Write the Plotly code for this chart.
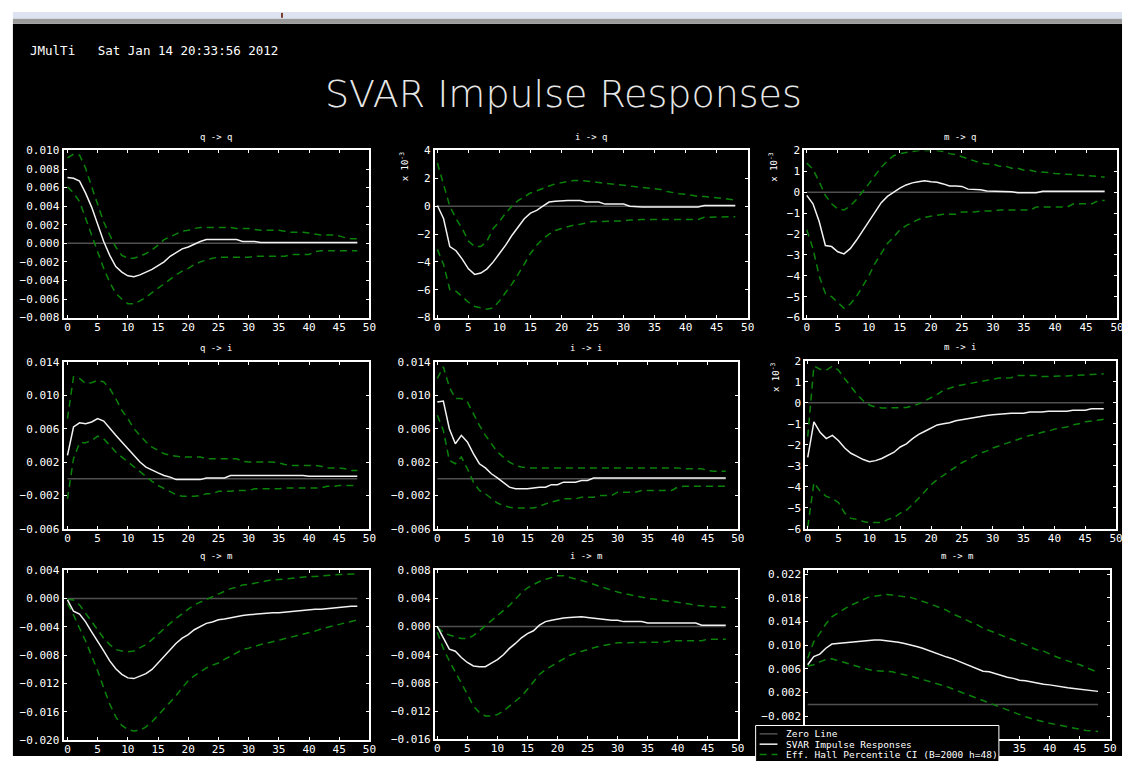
import plotly.graph_objects as go

W, H = 1133, 761

# ---------------- data ----------------
horizon = list(range(49))
zero = [0.0] * len(horizon)

titles = ["q -> q", "i -> q", "m -> q",
          "q -> i", "i -> i", "m -> i",
          "q -> m", "i -> m", "m -> m"]

# q -> q
irf_qq = [0.0071,0.0070,0.0067,0.0054,0.0039,0.0020,0.0002,-0.0013,-0.0025,-0.0031,
          -0.0035,-0.0036,-0.0034,-0.0031,-0.0028,-0.0024,-0.0020,-0.0014,-0.0010,-0.0006,
          -0.0004,-0.0001,0.0002,0.0004,0.0004,0.0004,0.0004,0.0004,0.0004,0.0002,
          0.0002,0.0002,0.0001,0.0001,0.0001,0.0001,0.0001,0.0001,0.0001,0.0001,
          0.0001,0.0001,0.0001,0.0001,0.0001,0.0001,0.0001,0.0001,0.0001]
hi_qq = [0.0092,0.0096,0.0095,0.0081,0.0061,0.0042,0.0023,0.0009,-0.0004,-0.0013,
         -0.0016,-0.0016,-0.0014,-0.0011,-0.0007,-0.0002,0.0004,0.0007,0.0010,0.0013,
         0.0014,0.0016,0.0017,0.0017,0.0017,0.0017,0.0017,0.0017,0.0016,0.0016,
         0.0016,0.0015,0.0014,0.0014,0.0014,0.0014,0.0013,0.0012,0.0012,0.0012,
         0.0011,0.0010,0.0009,0.0009,0.0009,0.0008,0.0006,0.0005,0.0005]
lo_qq = [0.0061,0.0054,0.0045,0.0027,0.0009,-0.0009,-0.0027,-0.0042,-0.0054,-0.0060,
         -0.0065,-0.0065,-0.0062,-0.0058,-0.0053,-0.0049,-0.0043,-0.0038,-0.0034,-0.0030,
         -0.0027,-0.0023,-0.0020,-0.0018,-0.0016,-0.0015,-0.0015,-0.0015,-0.0015,-0.0015,
         -0.0015,-0.0014,-0.0014,-0.0014,-0.0014,-0.0014,-0.0014,-0.0012,-0.0012,-0.0012,
         -0.0012,-0.0009,-0.0008,-0.0008,-0.0008,-0.0008,-0.0008,-0.0008,-0.0008]

# i -> q  (x 10^-3)
irf_iq = [0.05,-0.9,-2.9,-3.2,-3.8,-4.5,-4.9,-4.8,-4.5,-4.0,
          -3.4,-2.8,-2.1,-1.5,-0.9,-0.5,-0.3,0.0,0.3,0.35,
          0.4,0.4,0.4,0.4,0.3,0.3,0.3,0.15,0.15,0.15,
          0.15,0.0,-0.05,-0.05,-0.05,-0.05,-0.05,-0.05,-0.05,-0.05,
          -0.05,-0.05,-0.05,0.05,0.05,0.05,0.05,0.05,0.05]
hi_iq = [3.1,1.6,0.0,-0.9,-1.6,-2.5,-2.9,-2.9,-2.5,-1.6,
         -1.1,-0.5,0.0,0.4,0.7,0.95,1.1,1.3,1.45,1.6,
         1.7,1.8,1.85,1.85,1.8,1.75,1.75,1.65,1.6,1.6,
         1.55,1.45,1.4,1.35,1.3,1.25,1.2,1.05,0.95,0.9,
         0.85,0.75,0.7,0.7,0.65,0.55,0.5,0.45,0.45]
lo_iq = [-3.1,-4.2,-6.0,-6.1,-6.5,-6.9,-7.2,-7.3,-7.4,-7.3,
         -6.8,-6.2,-5.6,-4.9,-4.1,-3.4,-2.8,-2.35,-2.0,-1.75,
         -1.6,-1.45,-1.35,-1.3,-1.2,-1.1,-1.1,-1.1,-1.1,-1.05,
         -1.05,-1.0,-0.95,-0.95,-0.95,-0.95,-0.95,-0.95,-0.95,-0.95,
         -0.95,-0.95,-0.95,-0.8,-0.8,-0.8,-0.8,-0.8,-0.75]

# m -> q  (x 10^-3)
irf_mq = [-0.15,-0.55,-1.4,-2.55,-2.6,-2.85,-2.95,-2.7,-2.3,-1.85,
          -1.4,-0.9,-0.5,-0.2,0.0,0.2,0.35,0.45,0.5,0.55,
          0.5,0.48,0.4,0.3,0.3,0.28,0.15,0.15,0.12,0.06,
          0.06,0.06,0.05,0.03,-0.02,-0.02,-0.02,-0.02,0.05,0.05,
          0.05,0.05,0.05,0.05,0.05,0.05,0.05,0.05,0.05]
hi_mq = [1.4,1.1,0.5,-0.15,-0.55,-0.8,-0.85,-0.65,-0.35,0.0,
         0.4,0.8,1.2,1.5,1.75,1.85,1.9,1.95,2.0,2.0,
         2.0,2.0,1.95,1.85,1.8,1.7,1.6,1.5,1.4,1.35,
         1.35,1.25,1.25,1.15,1.15,1.05,1.05,0.98,0.98,0.95,
         0.9,0.88,0.87,0.87,0.85,0.8,0.78,0.75,0.72]
lo_mq = [-1.8,-2.7,-4.0,-4.85,-5.0,-5.3,-5.55,-5.35,-5.0,-4.5,
         -4.0,-3.4,-2.95,-2.45,-2.15,-1.8,-1.6,-1.45,-1.3,-1.2,
         -1.15,-1.1,-1.05,-1.05,-1.05,-0.95,-0.95,-0.95,-0.9,-0.9,
         -0.9,-0.85,-0.85,-0.85,-0.85,-0.85,-0.85,-0.7,-0.7,-0.7,
         -0.7,-0.7,-0.7,-0.55,-0.55,-0.55,-0.55,-0.4,-0.4]

# q -> i
irf_qi = [0.0028,0.0062,0.0067,0.0066,0.0068,0.0072,0.0069,0.0060,0.0052,0.0044,
          0.0036,0.0027,0.0020,0.0014,0.0010,0.0007,0.0004,0.0002,-0.0001,-0.0001,
          -0.0001,-0.0001,-0.0001,0.0001,0.0001,0.0001,0.0001,0.0004,0.0004,0.0004,
          0.0004,0.0004,0.0004,0.0004,0.0004,0.0004,0.0004,0.0004,0.0004,0.0004,
          0.0003,0.0003,0.0003,0.0003,0.0003,0.0003,0.0003,0.0003,0.0003]
hi_qi = [0.0072,0.0122,0.0120,0.0114,0.0115,0.0118,0.0116,0.0108,0.0096,0.0082,
         0.0072,0.0060,0.0052,0.0044,0.0038,0.0034,0.0030,0.0028,0.0027,0.0026,
         0.0026,0.0026,0.0026,0.0024,0.0024,0.0024,0.0024,0.0024,0.0024,0.0021,
         0.0020,0.0020,0.0020,0.0020,0.0020,0.0019,0.0017,0.0016,0.0016,0.0016,
         0.0016,0.0016,0.0015,0.0013,0.0013,0.0013,0.0012,0.0010,0.0010]
lo_qi = [-0.0024,0.0024,0.0043,0.0043,0.0046,0.0051,0.0048,0.0040,0.0032,0.0026,
         0.0020,0.0014,0.0008,0.0002,-0.0003,-0.0008,-0.0012,-0.0016,-0.0019,-0.0021,
         -0.0021,-0.0021,-0.0020,-0.0018,-0.0018,-0.0015,-0.0015,-0.0015,-0.0014,-0.0014,
         -0.0014,-0.0012,-0.0012,-0.0012,-0.0012,-0.0012,-0.0011,-0.0011,-0.0011,-0.0011,
         -0.0011,-0.0011,-0.0011,-0.0009,-0.0009,-0.0008,-0.0008,-0.0008,-0.0008]

# i -> i
irf_ii = [0.0092,0.0093,0.0060,0.0042,0.0052,0.0044,0.0030,0.0018,0.0013,0.0006,
          0.0001,-0.0005,-0.0010,-0.0012,-0.0012,-0.0012,-0.0011,-0.0010,-0.0010,-0.0007,
          -0.0007,-0.0004,-0.0004,-0.0004,-0.0002,-0.0002,0.0001,0.0001,0.0001,0.0001,
          0.0001,0.0001,0.0001,0.0001,0.0001,0.0001,0.0001,0.0001,0.0001,0.0001,
          0.0001,0.0001,0.0001,0.0001,0.0001,0.0001,0.0001,0.0001,0.0001]
hi_ii = [0.0120,0.0134,0.0110,0.0096,0.0096,0.0092,0.0078,0.0064,0.0052,0.0042,
         0.0032,0.0026,0.0020,0.0016,0.0014,0.0013,0.0013,0.0013,0.0013,0.0013,
         0.0013,0.0013,0.0013,0.0013,0.0013,0.0013,0.0013,0.0013,0.0013,0.0013,
         0.0013,0.0013,0.0013,0.0013,0.0013,0.0013,0.0013,0.0013,0.0013,0.0013,
         0.0013,0.0012,0.0012,0.0012,0.0012,0.0010,0.0009,0.0009,0.0009]
lo_ii = [0.0076,0.0058,0.0022,0.0018,0.0026,0.0012,-0.0004,-0.0014,-0.0018,-0.0024,
         -0.0029,-0.0032,-0.0034,-0.0035,-0.0035,-0.0035,-0.0035,-0.0033,-0.0030,-0.0028,
         -0.0026,-0.0024,-0.0024,-0.0024,-0.0022,-0.0022,-0.0022,-0.0020,-0.0020,-0.0020,
         -0.0016,-0.0016,-0.0016,-0.0016,-0.0014,-0.0014,-0.0014,-0.0014,-0.0014,-0.0014,
         -0.0010,-0.0009,-0.0009,-0.0009,-0.0009,-0.0009,-0.0009,-0.0009,-0.0009]

# m -> i  (x 10^-3)
irf_mi = [-2.6,-0.9,-1.4,-1.7,-1.55,-1.8,-2.15,-2.4,-2.55,-2.7,
          -2.8,-2.75,-2.65,-2.5,-2.35,-2.1,-1.95,-1.7,-1.5,-1.35,
          -1.2,-1.05,-1.0,-0.95,-0.85,-0.8,-0.72,-0.68,-0.63,-0.6,
          -0.57,-0.54,-0.54,-0.5,-0.5,-0.5,-0.44,-0.44,-0.44,-0.4,
          -0.4,-0.4,-0.4,-0.35,-0.35,-0.35,-0.28,-0.28,-0.28]
hi_mi = [-1.6,1.75,1.6,1.55,1.75,1.55,1.15,0.75,0.4,0.1,
         -0.1,-0.2,-0.24,-0.24,-0.24,-0.24,-0.22,-0.15,-0.05,0.1,
         0.25,0.4,0.6,0.7,0.8,0.85,0.9,0.98,1.02,1.07,
         1.12,1.18,1.18,1.2,1.3,1.3,1.3,1.3,1.25,1.25,
         1.25,1.25,1.28,1.3,1.3,1.33,1.35,1.38,1.38]
lo_mi = [-5.9,-3.8,-4.2,-4.45,-4.55,-4.75,-5.25,-5.5,-5.55,-5.65,
         -5.7,-5.7,-5.7,-5.55,-5.45,-5.25,-5.1,-4.85,-4.55,-4.2,
         -3.9,-3.65,-3.45,-3.25,-3.05,-2.85,-2.7,-2.55,-2.4,-2.3,
         -2.15,-2.05,-1.95,-1.85,-1.75,-1.65,-1.55,-1.5,-1.4,-1.35,
         -1.25,-1.2,-1.15,-1.05,-1.0,-0.9,-0.88,-0.83,-0.78]

# q -> m
irf_qm = [-0.0002,-0.0018,-0.0022,-0.0033,-0.0047,-0.0060,-0.0074,-0.0088,-0.0099,-0.0107,
          -0.0112,-0.0113,-0.0109,-0.0106,-0.0100,-0.0091,-0.0081,-0.0072,-0.0063,-0.0056,
          -0.0051,-0.0044,-0.0040,-0.0035,-0.0033,-0.0030,-0.0029,-0.0027,-0.0026,-0.0024,
          -0.0023,-0.0022,-0.0021,-0.0021,-0.0020,-0.0020,-0.0019,-0.0018,-0.0018,-0.0017,
          -0.0016,-0.0015,-0.0015,-0.0014,-0.0013,-0.0013,-0.0012,-0.0011,-0.0011]
hi_qm = [-0.0001,-0.0002,-0.0009,-0.0021,-0.0033,-0.0044,-0.0056,-0.0065,-0.0072,-0.0074,
         -0.0075,-0.0074,-0.0070,-0.0065,-0.0058,-0.0050,-0.0042,-0.0035,-0.0028,-0.0021,
         -0.0015,-0.0009,-0.0005,-0.0001,0.0003,0.0007,0.0010,0.0014,0.0016,0.0019,
         0.0020,0.0022,0.0023,0.0025,0.0026,0.0027,0.0028,0.0029,0.0029,0.0030,
         0.0031,0.0031,0.0032,0.0033,0.0033,0.0034,0.0034,0.0035,0.0035]
lo_qm = [-0.0007,-0.0023,-0.0042,-0.0060,-0.0081,-0.0102,-0.0126,-0.0149,-0.0167,-0.0179,
         -0.0185,-0.0187,-0.0186,-0.0181,-0.0174,-0.0165,-0.0156,-0.0147,-0.0137,-0.0126,
         -0.0116,-0.0109,-0.0103,-0.0098,-0.0094,-0.0091,-0.0086,-0.0081,-0.0077,-0.0072,
         -0.0070,-0.0067,-0.0065,-0.0063,-0.0061,-0.0059,-0.0057,-0.0054,-0.0053,-0.0050,
         -0.0048,-0.0046,-0.0043,-0.0041,-0.0039,-0.0036,-0.0034,-0.0032,-0.0030]

# i -> m
irf_im = [0.0000,-0.0017,-0.0032,-0.0035,-0.0044,-0.0051,-0.0056,-0.0057,-0.0057,-0.0052,
          -0.0047,-0.0040,-0.0031,-0.0024,-0.0016,-0.0010,-0.0006,0.0002,0.0007,0.0009,
          0.0011,0.0012,0.0013,0.0014,0.0014,0.0013,0.0012,0.0011,0.0009,0.0009,
          0.0009,0.0007,0.0007,0.0007,0.0007,0.0005,0.0005,0.0005,0.0005,0.0005,
          0.0005,0.0005,0.0005,0.0005,0.0002,0.0002,0.0002,0.0002,0.0002]
hi_im = [-0.0001,-0.0008,-0.0012,-0.0015,-0.0017,-0.0017,-0.0013,-0.0006,0.0001,0.0008,
         0.0015,0.0022,0.0030,0.0039,0.0048,0.0055,0.0060,0.0064,0.0067,0.0070,
         0.0072,0.0072,0.0070,0.0067,0.0065,0.0063,0.0060,0.0057,0.0055,0.0052,
         0.0049,0.0047,0.0045,0.0043,0.0042,0.0040,0.0039,0.0038,0.0036,0.0035,
         0.0034,0.0033,0.0032,0.0030,0.0029,0.0029,0.0028,0.0028,0.0027]
lo_im = [-0.0008,-0.0031,-0.0049,-0.0064,-0.0080,-0.0096,-0.0113,-0.0122,-0.0127,-0.0127,
         -0.0125,-0.0120,-0.0113,-0.0106,-0.0099,-0.0089,-0.0078,-0.0068,-0.0061,-0.0056,
         -0.0050,-0.0045,-0.0041,-0.0038,-0.0035,-0.0032,-0.0030,-0.0028,-0.0026,-0.0024,
         -0.0023,-0.0023,-0.0023,-0.0023,-0.0023,-0.0022,-0.0022,-0.0022,-0.0022,-0.0020,
         -0.0020,-0.0020,-0.0020,-0.0020,-0.0020,-0.0018,-0.0018,-0.0018,-0.0018]

# m -> m
irf_mm = [0.0067,0.0081,0.0085,0.0095,0.0102,0.0103,0.0105,0.0106,0.0107,0.0108,
          0.0108,0.0109,0.0109,0.0108,0.0107,0.0105,0.0103,0.0101,0.0098,0.0095,
          0.0091,0.0088,0.0084,0.0080,0.0077,0.0073,0.0069,0.0065,0.0060,0.0056,
          0.0055,0.0052,0.0048,0.0046,0.0044,0.0041,0.0040,0.0038,0.0035,0.0034,
          0.0033,0.0031,0.0030,0.0028,0.0027,0.0026,0.0025,0.0023,0.0022]
hi_mm = [0.0078,0.0106,0.0120,0.0136,0.0148,0.0155,0.0161,0.0167,0.0172,0.0177,
         0.0181,0.0183,0.0185,0.0186,0.0185,0.0183,0.0182,0.0181,0.0178,0.0175,
         0.0171,0.0167,0.0163,0.0159,0.0153,0.0149,0.0144,0.0139,0.0135,0.0129,
         0.0125,0.0122,0.0117,0.0113,0.0109,0.0105,0.0101,0.0096,0.0092,0.0090,
         0.0085,0.0081,0.0077,0.0073,0.0070,0.0067,0.0063,0.0059,0.0054]
lo_mm = [0.0065,0.0067,0.0072,0.0076,0.0077,0.0074,0.0071,0.0067,0.0065,0.0062,
         0.0059,0.0057,0.0057,0.0056,0.0055,0.0052,0.0050,0.0048,0.0045,0.0043,
         0.0040,0.0037,0.0034,0.0030,0.0026,0.0022,0.0019,0.0015,0.0011,0.0007,
         0.0002,-0.0002,-0.0006,-0.0010,-0.0014,-0.0017,-0.0021,-0.0024,-0.0027,-0.0029,
         -0.0032,-0.0034,-0.0036,-0.0039,-0.0040,-0.0042,-0.0044,-0.0045,-0.0046]

irfs = [irf_qq, irf_iq, irf_mq, irf_qi, irf_ii, irf_mi, irf_qm, irf_im, irf_mm]
his = [hi_qq, hi_iq, hi_mq, hi_qi, hi_ii, hi_mi, hi_qm, hi_im, hi_mm]
los = [lo_qq, lo_iq, lo_mq, lo_qi, lo_ii, lo_mi, lo_qm, lo_im, lo_mm]

x_ticks = [0, 5, 10, 15, 20, 25, 30, 35, 40, 45, 50]

legend_labels = ["Zero Line", "SVAR Impulse Responses",
                 "Eff. Hall Percentile CI (B=2000 h=48)"]

# ---------------- layout helpers ----------------
def fx(px):
    return px / W

def fy(py):
    return 1 - py / H

# box pixel positions (left, right, top, bottom)
boxes = [(63, 371, 147, 317), (437, 752, 147, 317), (809, 1124, 147, 317),
         (63, 371, 362, 532), (437, 742, 362, 532), (810, 1123, 361, 532),
         (63, 371, 574, 747), (437, 742, 574, 746), (810, 1117, 574, 746)]
xranges = [[-0.65, 50], [-0.4, 50], [-0.4, 50]] * 3
yaxes_cfg = [
    dict(range=[-0.008, 0.010], dtick=0.002, tick0=0, tickformat=".3f"),
    dict(range=[-8, 4], dtick=2, tick0=0, tickformat="d"),
    dict(range=[-6, 2], dtick=1, tick0=0, tickformat="d"),
    dict(range=[-0.006, 0.014], dtick=0.004, tick0=0.002, tickformat=".3f"),
    dict(range=[-0.006, 0.014], dtick=0.004, tick0=0.002, tickformat=".3f"),
    dict(range=[-6, 2], dtick=1, tick0=0, tickformat="d"),
    dict(range=[-0.020, 0.004], dtick=0.004, tick0=0, tickformat=".3f"),
    dict(range=[-0.016, 0.008], dtick=0.004, tick0=0, tickformat=".3f"),
    dict(range=[-0.0059, 0.0227], dtick=0.004, tick0=0.002, tickformat=".3f"),
]
scaled = [False, True, True, False, False, True, False, False, False]

ZERO_C = "#505050"
IRF_C = "#f2f2f2"
CI_C = "#0a820a"
DASH = "7px,5px"
MONO = "DejaVu Sans Mono, Liberation Mono, monospace"
TICKFONT = dict(family=MONO, size=11, color="white")

fig = go.Figure()
layout_axes = {}
annotations = []

for i in range(9):
    k = i + 1
    xa = "x" if k == 1 else f"x{k}"
    ya = "y" if k == 1 else f"y{k}"
    common = dict(xaxis=xa, yaxis=ya, mode="lines", showlegend=False, hoverinfo="skip")
    fig.add_trace(go.Scatter(x=horizon, y=zero, name=legend_labels[0],
                             line=dict(color=ZERO_C, width=1.5), **common))
    fig.add_trace(go.Scatter(x=horizon, y=his[i], name=legend_labels[2],
                             line=dict(color=CI_C, width=1.5, dash=DASH), **common))
    fig.add_trace(go.Scatter(x=horizon, y=los[i], name=legend_labels[2],
                             line=dict(color=CI_C, width=1.5, dash=DASH), **common))
    fig.add_trace(go.Scatter(x=horizon, y=irfs[i], name=legend_labels[1],
                             line=dict(color=IRF_C, width=1.5), **common))

    l, r, t, b = boxes[i]
    axis_style = dict(showgrid=False, zeroline=False, showline=True, linecolor="white",
                      linewidth=2, mirror="ticks", ticks="inside", ticklen=3,
                      tickcolor="white", tickwidth=1, tickfont=TICKFONT)
    if k == 9:
        # the tick labels under the legend box are hidden in the original
        xt = dict(tickmode="array", tickvals=x_ticks,
                  ticktext=[str(v) if v >= 35 else "" for v in x_ticks])
    else:
        xt = dict(dtick=5, tick0=0)
    layout_axes["xaxis" if k == 1 else f"xaxis{k}"] = dict(
        domain=[fx(l), fx(r)], anchor=ya, range=xranges[i], ticklabelstandoff=-2,
        **xt, **axis_style)
    layout_axes["yaxis" if k == 1 else f"yaxis{k}"] = dict(
        domain=[fy(b), fy(t)], anchor=xa, **yaxes_cfg[i], **axis_style)

    annotations.append(dict(text=titles[i], x=fx((l + r) / 2), y=fy(t - 14),
                            xref="paper", yref="paper", showarrow=False,
                            xanchor="center", yanchor="middle",
                            font=dict(family=MONO, size=9, color="white")))
    if scaled[i]:
        annotations.append(dict(text="x 10<sup>-3</sup>", x=fx(l - 31), y=fy(t + 17),
                                xref="paper", yref="paper", showarrow=False, textangle=-90,
                                xanchor="center", yanchor="middle",
                                font=dict(family=MONO, size=9, color="white")))

# header texts
annotations.append(dict(text="JMulTi   Sat Jan 14 20:33:56 2012", x=fx(27), y=fy(45.5),
                        xref="paper", yref="paper", showarrow=False, xanchor="left",
                        yanchor="middle",
                        font=dict(family=MONO, size=12.5, color="white")))
annotations.append(dict(text="SVAR Impulse Responses", x=fx(566), y=fy(90),
                        xref="paper", yref="paper", showarrow=False, xanchor="center",
                        yanchor="middle",
                        font=dict(family="DejaVu Sans, Lato, sans-serif", size=38,
                                  color="#e6e6e6", weight=200)))

shapes = [
    dict(type="rect", xref="paper", yref="paper", x0=fx(12), x1=fx(1129), y0=fy(H + 2), y1=fy(18),
         fillcolor="black", line=dict(width=0), layer="below"),
    dict(type="rect", xref="paper", yref="paper", x0=fx(12), x1=fx(1129), y0=fy(13), y1=fy(6),
         fillcolor="#dde3f1", line=dict(width=0), layer="below"),
    dict(type="rect", xref="paper", yref="paper", x0=fx(12), x1=fx(1129), y0=fy(18), y1=fy(13),
         fillcolor="#9a9a9a", line=dict(width=0), layer="below"),
    dict(type="line", xref="paper", yref="paper", x0=fx(283), x1=fx(283), y0=fy(12), y1=fy(7),
         line=dict(color="#7b3f2f", width=2), layer="below"),
]

# legend box (cut at the bottom, as in the original screenshot)
shapes.append(dict(type="rect", xref="paper", yref="paper", x0=fx(760), x1=fx(1005),
                   y0=fy(775), y1=fy(732), fillcolor="black",
                   line=dict(color="white", width=1), layer="above"))
leg_styles = [dict(color=ZERO_C, width=1.5), dict(color=IRF_C, width=1.5),
              dict(color=CI_C, width=1.5, dash=DASH)]
for j, (lab, st) in enumerate(zip(legend_labels, leg_styles)):
    yy = 740.5 + j * 10.5
    shapes.append(dict(type="line", xref="paper", yref="paper", x0=fx(764), x1=fx(782),
                       y0=fy(yy), y1=fy(yy), line=st, layer="above"))
    annotations.append(dict(text=lab, x=fx(789), y=fy(yy), xref="paper", yref="paper",
                            showarrow=False, xanchor="left", yanchor="middle",
                            font=dict(family=MONO, size=9.5, color="white")))

fig.update_layout(
    width=W, height=H,
    margin=dict(l=0, r=0, t=0, b=0),
    paper_bgcolor="white",
    plot_bgcolor="black",
    showlegend=False,
    annotations=annotations,
    shapes=shapes,
    **layout_axes,
)

fig.write_html("out.html",
               config={"displayModeBar": False},
               post_script="document.body.style.margin='0';"
                           "document.documentElement.style.overflow='hidden';"
                           "document.body.style.overflow='hidden';")
